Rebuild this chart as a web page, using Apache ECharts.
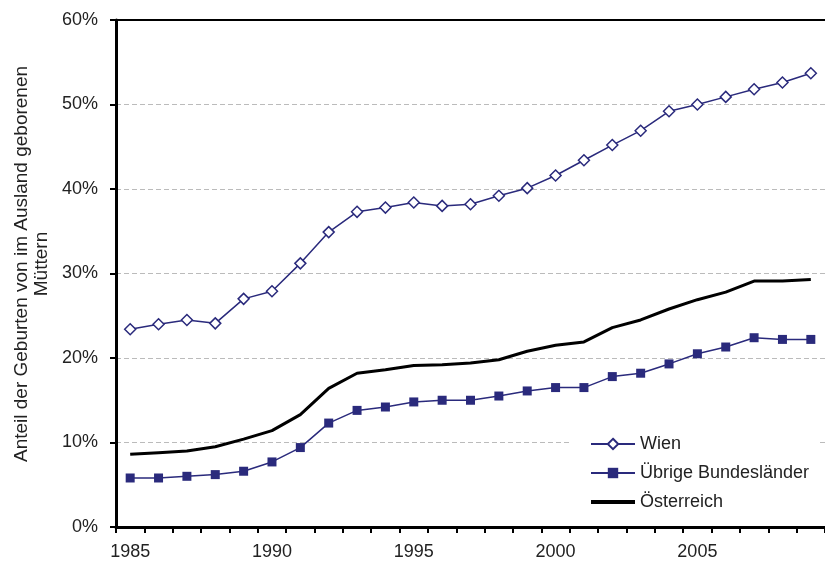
<!DOCTYPE html>
<html>
<head>
<meta charset="utf-8">
<script src="https://cdn.jsdelivr.net/npm/echarts@6/dist/echarts.min.js"></script>
<style>
  html, body { margin: 0; padding: 0; background: #fff; }
  #chart { width: 825px; height: 567px; }
</style>
</head>
<body>
<div id="chart"></div>
<script>
const years = ['1985', '1986', '1987', '1988', '1989', '1990', '1991', '1992', '1993', '1994',
  '1995', '1996', '1997', '1998', '1999', '2000', '2001', '2002', '2003', '2004',
  '2005', '2006', '2007', '2008', '2009']
const wien = [23.4, 24.0, 24.5, 24.1, 27.0, 27.9, 31.2, 34.9, 37.3, 37.8,
  38.4, 38.0, 38.2, 39.2, 40.1, 41.6, 43.4, 45.2, 46.9, 49.2,
  50.0, 50.9, 51.8, 52.6, 53.7]
const uebrige = [5.8, 5.8, 6.0, 6.2, 6.6, 7.7, 9.4, 12.3, 13.8, 14.2,
  14.8, 15.0, 15.0, 15.5, 16.1, 16.5, 16.5, 17.8, 18.2, 19.3,
  20.5, 21.3, 22.4, 22.2, 22.2]
const oesterreich = [8.6, 8.8, 9.0, 9.5, 10.4, 11.4, 13.3, 16.4, 18.2, 18.6,
  19.1, 19.2, 19.4, 19.8, 20.8, 21.5, 21.9, 23.6, 24.5, 25.8,
  26.9, 27.8, 29.1, 29.1, 29.3]
const seriesNames = ['Wien', 'Übrige Bundesländer', 'Österreich']
const yAxisTitle = 'Anteil der Geburten von im Ausland geborenen\nMüttern'

const navy = '#2a2a7c'
const font = 'Liberation Sans, Arial, sans-serif'

const chart = echarts.init(document.getElementById('chart'))
chart.setOption({
  animation: false,
  textStyle: { fontFamily: font },
  grid: {
    left: 116,
    top: 20,
    width: 719,
    bottom: 40
  },
  graphic: [
    {
      type: 'text',
      x: 32,
      y: 264,
      rotation: Math.PI / 2,
      style: {
        text: yAxisTitle,
        align: 'center',
        verticalAlign: 'middle',
        fontSize: 19,
        lineHeight: 20,
        fill: '#222',
        fontFamily: font
      }
    }
  ],
  legend: {
    orient: 'vertical',
    left: 572,
    top: 430,
    padding: [4, 10, 4, 17],
    backgroundColor: '#fff',
    itemWidth: 44,
    itemHeight: 13,
    itemGap: 9,
    textStyle: { fontSize: 18, color: '#222', lineHeight: 20 },
    data: [
      seriesNames[0],
      seriesNames[1],
      { name: seriesNames[2], itemStyle: { opacity: 0 }, lineStyle: { width: 4 } }
    ]
  },
  xAxis: [
    {
      type: 'category',
      data: years,
      boundaryGap: true,
      z: 3,
      axisLine: { lineStyle: { color: '#000', width: 3 } },
      axisTick: { show: true, interval: 0, length: 6, lineStyle: { color: '#000', width: 2 } },
      axisLabel: { interval: 4, margin: 16, fontSize: 18, color: '#222' },
      splitLine: { show: false }
    },
    {
      type: 'category',
      data: years,
      position: 'top',
      z: 3,
      axisLine: { show: true, lineStyle: { color: '#000', width: 2 } },
      axisTick: { show: false },
      axisLabel: { show: false },
      splitLine: { show: false }
    }
  ],
  yAxis: {
    type: 'value',
    min: 0,
    max: 60,
    interval: 10,
    z: 3,
    axisLine: { show: true, lineStyle: { color: '#000', width: 3 } },
    axisTick: { show: true, length: 6, lineStyle: { color: '#000', width: 2 } },
    axisLabel: { formatter: '{value}%', margin: 18, fontSize: 18, color: '#222' },
    splitLine: { show: true, lineStyle: { color: '#bbb', type: [5, 3], width: 1 } }
  },
  series: [
    {
      name: seriesNames[0],
      type: 'line',
      data: wien,
      symbol: 'diamond',
      symbolSize: 11,
      showAllSymbol: true,
      lineStyle: { color: navy, width: 1.5 },
      itemStyle: { color: '#fff', borderColor: navy, borderWidth: 1.5 }
    },
    {
      name: seriesNames[1],
      type: 'line',
      data: uebrige,
      symbol: 'rect',
      symbolSize: 9,
      showAllSymbol: true,
      lineStyle: { color: navy, width: 1.5 },
      itemStyle: { color: navy }
    },
    {
      name: seriesNames[2],
      type: 'line',
      data: oesterreich,
      symbol: 'none',
      lineStyle: { color: '#000', width: 3 },
      itemStyle: { color: '#000' }
    }
  ]
})
</script>
</body>
</html>
